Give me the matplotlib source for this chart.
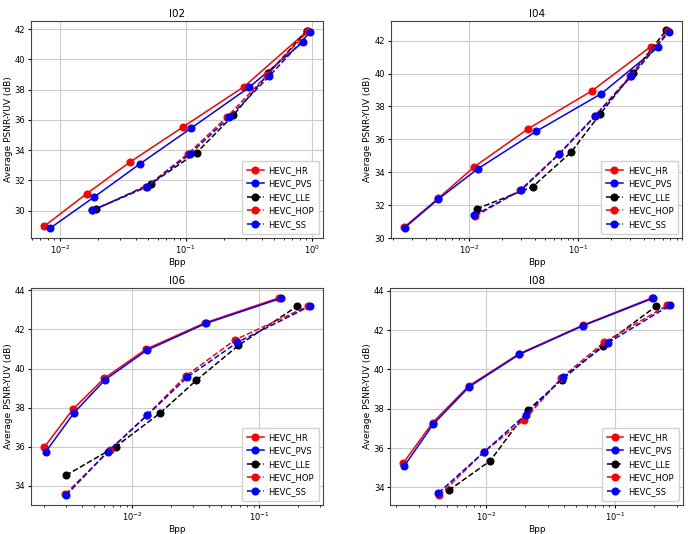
import matplotlib
matplotlib.use('Agg')
import matplotlib.pyplot as plt

# ---- data (Bpp, PSNR) ----
series_names = ['HEVC_HR', 'HEVC_PVS', 'HEVC_LLE', 'HEVC_HOP', 'HEVC_SS']
series_styles = ['r-o', 'b-o', 'k--o', 'r--o', 'b--o']

# I02
i02_hr_x = [0.0075, 0.0163, 0.036, 0.0944, 0.290, 0.914]
i02_hr_y = [28.97, 31.12, 33.21, 35.52, 38.20, 41.85]
i02_pvs_x = [0.00833, 0.0187, 0.0433, 0.110, 0.320, 0.849]
i02_pvs_y = [28.83, 30.90, 33.10, 35.45, 38.17, 41.14]
i02_lle_x = [0.0193, 0.0528, 0.122, 0.2387, 0.453, 0.914]
i02_lle_y = [30.10, 31.78, 33.84, 36.31, 39.07, 41.90]
i02_hop_x = [0.0180, 0.0485, 0.104, 0.213, 0.440, 0.93]
i02_hop_y = [30.02, 31.58, 33.76, 36.20, 38.95, 41.85]
i02_ss_x = [0.0181, 0.0489, 0.1077, 0.2204, 0.461, 0.97]
i02_ss_y = [30.02, 31.56, 33.74, 36.16, 38.90, 41.80]

# I04
i04_hr_x = [0.00252, 0.0052, 0.0111, 0.0348, 0.1337, 0.4645]
i04_hr_y = [30.66, 32.42, 34.33, 36.65, 38.95, 41.64]
i04_pvs_x = [0.00255, 0.0052, 0.0119, 0.0409, 0.1625, 0.545]
i04_pvs_y = [30.63, 32.37, 34.20, 36.48, 38.77, 41.62]
i04_lle_x = [0.01167, 0.0381, 0.0857, 0.159, 0.315, 0.645]
i04_lle_y = [31.78, 33.12, 35.21, 37.54, 40.02, 42.65]
i04_hop_x = [0.0114, 0.0295, 0.066, 0.141, 0.300, 0.670]
i04_hop_y = [31.33, 32.93, 35.10, 37.40, 39.85, 42.58]
i04_ss_x = [0.0111, 0.0298, 0.067, 0.1423, 0.306, 0.684]
i04_ss_y = [31.38, 32.91, 35.11, 37.39, 39.82, 42.55]

# I06
i06_hr_x = [0.00202, 0.0034, 0.00598, 0.0128, 0.0373, 0.1437]
i06_hr_y = [35.96, 37.91, 39.49, 40.99, 42.34, 43.63]
i06_pvs_x = [0.00208, 0.00348, 0.00608, 0.0130, 0.0378, 0.148]
i06_pvs_y = [35.74, 37.74, 39.42, 40.94, 42.31, 43.60]
i06_lle_x = [0.00299, 0.0074, 0.0165, 0.0318, 0.0684, 0.199]
i06_lle_y = [34.52, 36.00, 37.71, 39.39, 41.18, 43.20]
i06_hop_x = [0.00296, 0.00667, 0.0131, 0.0263, 0.0644, 0.243]
i06_hop_y = [33.56, 35.83, 37.62, 39.61, 41.47, 43.20]
i06_ss_x = [0.0030, 0.0064, 0.0131, 0.0271, 0.0672, 0.251]
i06_ss_y = [33.50, 35.74, 37.61, 39.56, 41.34, 43.20]

# I08
i08_hr_x = [0.00229, 0.00386, 0.00733, 0.0180, 0.0560, 0.1935]
i08_hr_y = [35.25, 37.30, 39.16, 40.80, 42.25, 43.65]
i08_pvs_x = [0.00232, 0.0039, 0.0074, 0.0181, 0.0565, 0.195]
i08_pvs_y = [35.08, 37.22, 39.12, 40.77, 42.23, 43.62]
i08_lle_x = [0.00513, 0.01074, 0.0210, 0.0385, 0.0795, 0.208]
i08_lle_y = [33.85, 35.35, 37.92, 39.48, 41.20, 43.23]
i08_hop_x = [0.00434, 0.0096, 0.0198, 0.0382, 0.0817, 0.2518]
i08_hop_y = [33.60, 35.80, 37.45, 39.57, 41.38, 43.26]
i08_ss_x = [0.00427, 0.0097, 0.0202, 0.0396, 0.0883, 0.264]
i08_ss_y = [33.72, 35.82, 37.70, 39.60, 41.37, 43.26]

panels = [
    ('I02', [(i02_hr_x, i02_hr_y), (i02_pvs_x, i02_pvs_y), (i02_lle_x, i02_lle_y),
             (i02_hop_x, i02_hop_y), (i02_ss_x, i02_ss_y)]),
    ('I04', [(i04_hr_x, i04_hr_y), (i04_pvs_x, i04_pvs_y), (i04_lle_x, i04_lle_y),
             (i04_hop_x, i04_hop_y), (i04_ss_x, i04_ss_y)]),
    ('I06', [(i06_hr_x, i06_hr_y), (i06_pvs_x, i06_pvs_y), (i06_lle_x, i06_lle_y),
             (i06_hop_x, i06_hop_y), (i06_ss_x, i06_ss_y)]),
    ('I08', [(i08_hr_x, i08_hr_y), (i08_pvs_x, i08_pvs_y), (i08_lle_x, i08_lle_y),
             (i08_hop_x, i08_hop_y), (i08_ss_x, i08_ss_y)]),
]

# y-range per panel (None = autoscale)
panel_ylims = [None, (30.0, 43.2), None, None]

# axes boxes in figure fractions (left, bottom, width, height)
boxes = [
    (0.045, 0.554, 0.425, 0.407),
    (0.568, 0.554, 0.424, 0.407),
    (0.045, 0.054, 0.425, 0.407),
    (0.567, 0.054, 0.426, 0.407),
]

fig = plt.figure(figsize=(6.88, 5.34), dpi=100)

for (title, data), box, ylim in zip(panels, boxes, panel_ylims):
    ax = fig.add_axes(box)
    for (xs, ys), name, style in zip(data, series_names, series_styles):
        ax.plot(xs, ys, style, label=name, lw=1.1, ms=4.8)
    ax.set_xscale('log')
    if ylim is not None:
        ax.set_ylim(*ylim)
    ax.set_title(title, fontsize=7.5, pad=3)
    ax.set_xlabel('Bpp', fontsize=6.5, labelpad=1)
    ax.set_ylabel('Average PSNR-YUV (dB)', fontsize=6.5, labelpad=1.5)
    ax.tick_params(labelsize=6, length=2.5, pad=1.5)
    ax.tick_params(which='minor', length=1.5)
    ax.grid(True, which='major', color='#cccccc', lw=0.8)
    for sp in ax.spines.values():
        sp.set_color('#444444')
    ax.legend(loc='lower right', fontsize=6, framealpha=0.9,
              handlelength=2.0, borderpad=0.6, labelspacing=0.55,
              handletextpad=0.6)

fig.savefig('out.png', dpi=100)
